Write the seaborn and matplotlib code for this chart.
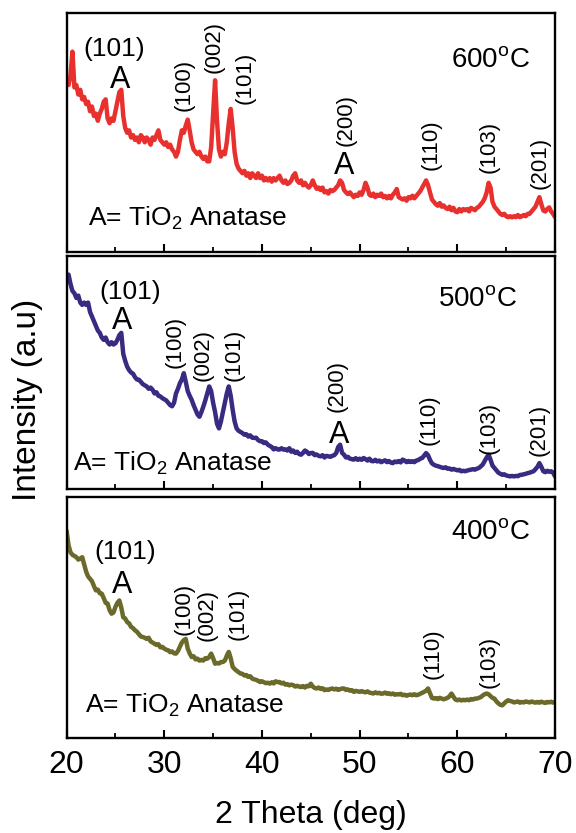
import numpy as np
import pandas as pd
import matplotlib
matplotlib.use("Agg")
import matplotlib.pyplot as plt
from matplotlib.ticker import MultipleLocator
import seaborn as sns

# ---------------- data ----------------
# scan grid (2 theta, deg), step 0.2
two_theta = np.round(np.arange(20.0, 70.0001, 0.2), 1)

intensity_600 = [
    72, 70, 74, 84, 69, 70, 66, 68, 64, 65,
    62, 63, 59, 61, 57, 58, 55, 58, 60, 63,
    64, 56, 54, 56, 55, 59, 63, 67, 68, 57,
    52, 50, 51, 48, 49, 47, 48, 46, 49, 48,
    46, 48, 47, 45, 48, 47, 49, 51, 47, 46,
    45, 46, 44, 45, 43, 42, 40, 42, 47, 51,
    50, 53, 55.5, 51, 46, 43, 42, 41, 42, 40,
    39, 40, 38, 38, 44, 58, 72, 55, 43, 40,
    42, 41, 46, 54, 60, 52, 42, 37, 35, 34,
    33, 34, 32, 33, 31, 33, 32, 31, 33, 31,
    32, 30, 31, 30, 31, 29.5, 31, 30, 31, 32,
    30, 29, 30, 28.5, 29, 30, 32, 33, 30, 29,
    30, 28, 29, 27.8, 27, 28, 30, 28, 26.5, 27,
    26, 27, 25, 25.5, 24.5, 26, 25.5, 26, 27, 28,
    30, 29, 26, 25, 24.3, 25, 24, 23, 24, 23.5,
    25, 24, 26, 29, 27, 24, 23.5, 24.5, 23, 24,
    23.5, 24.5, 23, 23.5, 22.5, 23.5, 22.5, 24, 25, 26.4,
    23, 22.5, 22, 22.5, 21.5, 23, 22.5, 23.6, 22.5, 23.5,
    24.5, 25.5, 27, 28.5, 30, 28, 25, 22, 21, 20,
    19.4, 20.5, 19, 19.5, 18.5, 18, 19, 17.5, 18.5, 17,
    16.7, 18, 17, 18, 17.5, 18, 17, 18.5, 18, 17.5,
    18.5, 19, 20, 21, 22.5, 25, 29, 27, 21, 19,
    18, 17, 16, 15.5, 16, 15, 14.6, 15, 14.5, 15,
    14.6, 15.5, 14.6, 15, 15.5, 15, 16, 16, 17, 18,
    19, 21, 23, 20, 17.4, 17, 18, 18.7, 17, 16,
    14.6,
]

intensity_500 = [
    89, 92, 88, 85, 84, 82, 83, 80, 79, 80,
    79, 80, 76, 74, 72, 70, 68, 67, 65, 64,
    65, 63, 62, 63, 62, 62.5, 64, 66, 67, 58,
    55, 52.5, 51, 50, 49.5, 48, 47, 46.9, 46, 45,
    44.5, 44, 43, 43.5, 42.6, 41, 41.5, 40, 39.7, 39,
    38.5, 38, 37, 36, 35.5, 37, 41, 43, 45.4, 47,
    49.7, 46, 42, 40, 38.3, 36, 34, 32, 31, 33,
    35.4, 38, 41, 44, 42, 37, 33, 28, 26, 29,
    33, 37, 41, 44, 40, 34, 29, 26, 25, 24.5,
    24, 23.3, 23.5, 22.5, 23, 22, 21.9, 22, 21, 20.5,
    20.5, 19.7, 20, 19, 18.5, 18, 17, 17.5, 17, 16.9,
    17.5, 16.9, 17, 16.5, 17.5, 16, 16.5, 15.5, 16, 15,
    14.7, 15.5, 16.5, 16, 15, 15.4, 15.5, 14.5, 14.8, 14.2,
    14, 14.5, 13.5, 14.2, 14, 13.8, 14.2, 14.5, 15.4, 18,
    19, 15.5, 14.7, 13.5, 13.8, 13, 12.8, 12.6, 13.2, 12.5,
    13, 12.5, 13.3, 12.8, 12.2, 13, 12, 11.9, 12.5, 11.8,
    12.2, 11.5, 11.9, 12.3, 11.5, 12, 11.3, 11.1, 11.8, 11.5,
    12, 11.4, 12.6, 12.2, 11.5, 12, 11.6, 11.9, 11.5, 12.2,
    12.4, 13, 13.3, 14.3, 15.4, 14.5, 12.5, 11, 10.4, 10,
    9.8, 9.5, 9.2, 9, 9.3, 8.7, 8.8, 8.3, 8.6, 8.3,
    8, 8.2, 7.6, 7.8, 7.6, 7.9, 8.1, 8.3, 8.5, 8.3,
    8.7, 9, 9.7, 10.5, 12, 13.5, 14.7, 12.5, 10, 9,
    8, 7, 6.5, 6.1, 6.3, 5.8, 5.6, 5.4, 5.6, 5.4,
    5.6, 5.5, 6, 6.1, 6.3, 6.5, 6.8, 7, 7.3, 7.6,
    8.5, 9.5, 11.1, 9.5, 7.6, 7.2, 7.8, 7.4, 7.6, 7,
    5.4,
]

intensity_400 = [
    86, 80, 77, 76, 75.5, 75, 74, 74.4, 75, 72,
    69, 67, 66, 65, 63, 61.2, 61.5, 60, 59.8, 58,
    56, 55.7, 53, 51.5, 52, 54.3, 56, 57, 54, 50,
    49.5, 48, 47.5, 46, 45.5, 44.6, 44, 43, 42, 41.8,
    41.5, 41, 41.5, 40, 39.5, 39, 38.5, 38.8, 37.5, 37.7,
    37, 36.5, 36.3, 35.5, 35.8, 35, 34.9, 36, 37.7, 39.5,
    40.5, 41, 37, 35, 33.5, 33.8, 32.5, 32.8, 32, 32.3,
    32, 33, 32.8, 33.5, 34.9, 33, 30.7, 31, 30.8, 31.4,
    31.4, 32, 34, 35.6, 33, 29.4, 28.5, 27.8, 27.2, 26.6,
    26.5, 25.8, 26, 25.2, 25.5, 24.5, 24.2, 24, 23.6, 23.1,
    23.4, 23, 22.6, 22.8, 22.4, 23, 22.5, 23.4, 23, 23.1,
    22.5, 22.8, 22, 22.2, 21.7, 22, 21.8, 21.2, 21.5, 21.2,
    21, 21.4, 20.8, 21.5, 21.3, 22.4, 21.2, 20.6, 20.4, 20.8,
    20.2, 20.5, 19.7, 20, 19.8, 20.2, 20.4, 20, 20.3, 19.8,
    20.1, 20.4, 20.4, 19.8, 20, 19.5, 19.7, 19, 19.4, 19.2,
    19, 19.3, 19, 18.8, 19.2, 18.7, 18.5, 18.3, 18.8, 18.4,
    18.6, 18.2, 18.3, 18.7, 18.2, 18.4, 18, 18.3, 17.8, 18,
    17.9, 18.2, 17.6, 17.8, 17.4, 17.7, 17.9, 17.6, 18, 17.6,
    17.8, 18.2, 18.6, 19, 19.5, 20.4, 18.5, 16.5, 16.2, 16.4,
    16, 16.5, 16.2, 15.9, 16.2, 16.5, 17.2, 18.3, 17, 15.8,
    15.5, 15.8, 15.4, 15.7, 15.5, 15.8, 15.5, 16, 15.8, 16.2,
    16.2, 16.5, 16.8, 17.5, 18, 18.3, 18, 17.2, 16.5, 16.2,
    15, 14.2, 13.6, 13.4, 14.2, 15, 15.5, 15.2, 15, 14.6,
    14.8, 15, 14.5, 14.8, 14.6, 15, 14.8, 14.6, 15, 14.7,
    14.5, 14.8, 14.5, 14.9, 14.6, 14.4, 14.8, 14.6, 14.9, 14.5,
    14.8,
]

temperatures = ["600", "500", "400"]
x_ticks = [20, 30, 40, 50, 60, 70]

# peak labels: (text, 2theta, height) -- height in panel units
labels_600 = [("(100)", 32.0, 70), ("(002)", 35.1, 86), ("(101)", 38.3, 73),
              ("(200)", 48.6, 55.5), ("(110)", 57.3, 45), ("(103)", 63.3, 44),
              ("(201)", 68.5, 37.5)]
labels_500 = [("(100)", 31.1, 63), ("(002)", 34.0, 57.6), ("(101)", 37.1, 57.6),
              ("(200)", 47.7, 44), ("(110)", 57.1, 29.7), ("(103)", 63.3, 26),
              ("(201)", 68.4, 25.4)]
labels_400 = [("(100)", 32.0, 53.6), ("(002)", 34.4, 50.8), ("(101)", 37.6, 51.5),
              ("(110)", 57.5, 35), ("(103)", 63.3, 31.4)]

# anatase markers: (2theta, height) for "A"
anatase_600 = [(25.5, 72), (48.4, 36)]
anatase_500 = [(25.65, 72), (47.9, 23)]
anatase_400 = [(25.65, 63.3)]
# horizontal "(101)" over the first A
hkl101_600 = (24.9, 85)
hkl101_500 = (26.5, 84.5)
hkl101_400 = (26.0, 77)
temp_pos = [(63.4, 80.5), (62.1, 81.4), (63.4, 85.5)]
legend_pos = [(22.2, 14), (20.7, 11), (21.9, 13.4)]

# ---------------- style ----------------
sns.set_theme(style="ticks")
plt.rcParams["font.family"] = ["Liberation Sans", "DejaVu Sans"]
plt.rcParams["mathtext.fontset"] = "custom"
plt.rcParams["mathtext.rm"] = "Liberation Sans"
plt.rcParams["mathtext.it"] = "Liberation Sans:italic"
plt.rcParams["mathtext.bf"] = "Liberation Sans:bold"
plt.rcParams["text.color"] = "black"
plt.rcParams["xtick.color"] = "black"
plt.rcParams["xtick.labelcolor"] = "black"
plt.rcParams["axes.labelcolor"] = "black"

colors = ["#e8312f", "#3b2a82", "#6b6a2a"]
series = [intensity_600, intensity_500, intensity_400]
all_labels = [labels_600, labels_500, labels_400]
all_anatase = [anatase_600, anatase_500, anatase_400]
all_hkl101 = [hkl101_600, hkl101_500, hkl101_400]

fig = plt.figure(figsize=(5.76, 8.33), dpi=100)
rects = [
    [0.1156, 0.6975, 0.8480, 0.2863],
    [0.1156, 0.4130, 0.8480, 0.2797],
    [0.1156, 0.1146, 0.8480, 0.2887],
]

for k in range(3):
    ax = fig.add_axes(rects[k])
    df = pd.DataFrame({"two_theta": two_theta, "intensity": series[k]})
    sns.lineplot(data=df, x="two_theta", y="intensity", ax=ax,
                 color=colors[k], lw=3.2)
    ax.set_xlim(20, 70)
    ax.set_ylim(0, 100)
    ax.set_yticks([])
    ax.set_xlabel("")
    ax.set_ylabel("")
    ax.set_xticks(x_ticks)
    ax.xaxis.set_minor_locator(MultipleLocator(5))
    ax.tick_params(axis="x", which="major", direction="in", length=6,
                   width=1.5, color="black", labelcolor="black",
                   top=False, bottom=True, labelsize=23, pad=9)
    ax.tick_params(axis="x", which="minor", direction="in", length=3.5,
                   width=1.3, color="black", top=False, bottom=True)
    if k < 2:
        ax.tick_params(axis="x", which="both", labelbottom=False)
    for s in ax.spines.values():
        s.set_linewidth(1.7)
        s.set_color("black")

    for txt, xx, yy in all_labels[k]:
        ax.text(xx, yy, txt, rotation=90, ha="center", va="center",
                fontsize=16, color="black")
    for xx, yy in all_anatase[k]:
        ax.text(xx, yy, "A", ha="center", va="center", fontsize=22,
                color="black")
    hx, hy = all_hkl101[k]
    ax.text(hx, hy, "(101)", ha="center", va="center", fontsize=19,
            color="black")
    tx, ty = temp_pos[k]
    ax.text(tx, ty, temperatures[k] + r"$^\mathregular{o}$C", ha="center",
            va="center", fontsize=20, color="black")
    lx, ly = legend_pos[k]
    ax.text(lx, ly, r"A= TiO$_\mathregular{2}$ Anatase", ha="left",
            va="center", fontsize=19, color="black")

fig.text(0.047, 0.52, "Intensity (a.u)", rotation=90, ha="center",
         va="center", fontsize=24, color="black")
fig.text(0.54, 0.0216, "2 Theta (deg)", ha="center", va="center",
         fontsize=23, color="black")

fig.savefig("out.png", dpi=100)
